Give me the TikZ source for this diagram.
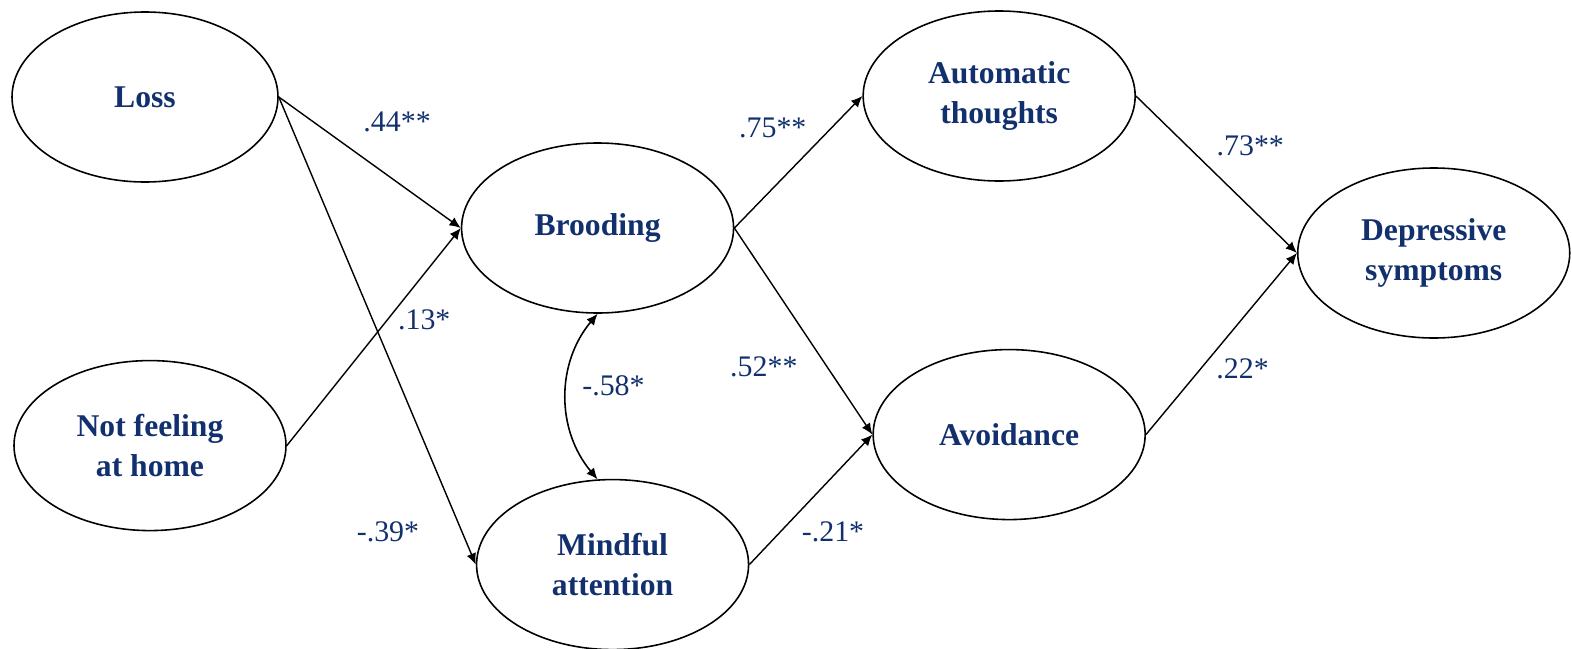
\documentclass[tikz,border=0pt]{standalone}
\usepackage{fontspec}
\setmainfont{Liberation Serif}
\usetikzlibrary{shapes.geometric,arrows.meta,positioning}
\definecolor{semblue}{HTML}{12306E}

\begin{document}
\begin{tikzpicture}[
  latent/.style={ellipse, draw, line width=0.45pt, minimum width=2.72cm,
                 minimum height=1.7cm, align=center, inner sep=0pt,
                 font=\fontsize{9}{11.3}\selectfont\bfseries, text=semblue},
  coef/.style={font=\fontsize{8.5}{10}\selectfont, text=semblue, inner sep=0pt},
  arr/.style={-{Latex[length=3.2pt,width=2.8pt]}, line width=0.4pt},
  cov/.style={{Latex[length=3.2pt,width=2.8pt]}-{Latex[length=3.2pt,width=2.8pt]},
              line width=0.45pt}
]
\useasboundingbox (0,0) rectangle (15.72,-6.49);

% --- Nodes ---
\node[latent, minimum width=2.66cm] (loss) at (1.45,-0.97) {Loss};
\node[latent, below=1.77cm of loss, xshift=0.05cm] (home) {Not feeling\\at home};

% mediators
\node[latent, right=1.82cm of loss, yshift=-1.31cm] (broo) {Brooding};
\node[latent, below=1.65cm of broo, xshift=0.15cm] (mind) {Mindful\\attention};

% cognitive / behavioural
\node[latent, right=1.28cm of broo, yshift=1.32cm] (auto) {Automatic\\thoughts};
\node[latent, below=1.67cm of auto, xshift=0.1cm] (avoi) {Avoidance};

% outcome
\node[latent, right=1.61cm of auto, yshift=-1.57cm] (depr) {Depressive\\symptoms};

% --- Paths ---
\draw[arr] (loss.east) -- node[coef, pos=0.65, yshift=0.6cm] {.44**} (broo.west);
\draw[arr] (loss.east) -- node[coef, pos=0.93, xshift=-0.74cm] {-.39*} (mind.west);
\draw[arr] (home.east) -- node[coef, pos=0.79, yshift=-0.46cm] {.13*} (broo.west);
\draw[arr] (broo.east) -- node[coef, pos=0.3, yshift=0.6cm] {.75**} (auto.west);
\draw[arr] (broo.east) -- node[coef, pos=0.67, xshift=-0.63cm] {.52**} (avoi.west);
\draw[arr] (mind.east) -- node[coef, pos=0.68, yshift=-0.56cm] {-.21*} (avoi.west);
\draw[arr] (auto.east) -- node[coef, pos=0.71, yshift=0.62cm] {.73**} (depr.west);
\draw[arr] (avoi.east) -- node[coef, pos=0.64, yshift=-0.5cm] {.22*} (depr.west);
\draw[cov] (broo.south) to[bend right=40] node[coef, midway, xshift=0.47cm, yshift=0.11cm] {-.58*} (mind.100);

\end{tikzpicture}
\end{document}
